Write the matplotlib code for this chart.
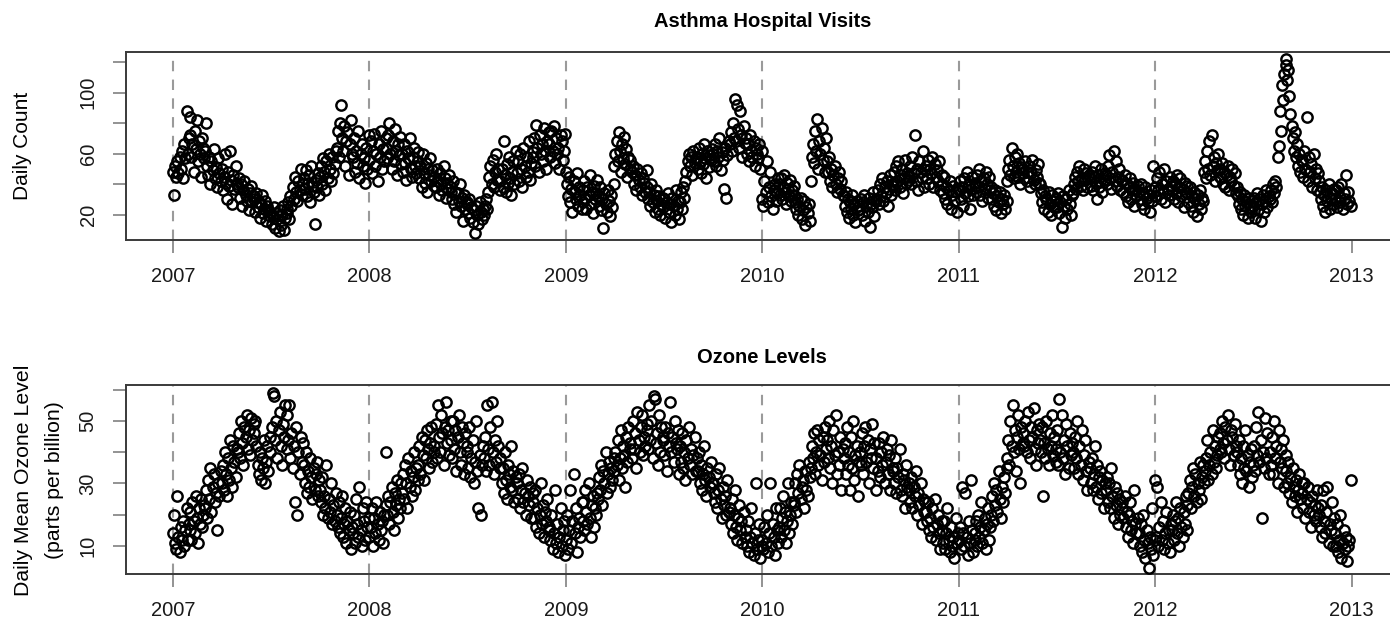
"""Daily asthma hospital visits and ozone levels, 2007-2012."""

import matplotlib

matplotlib.use("Agg")
import matplotlib.pyplot as plt
import pandas as pd

plt.rcParams["font.family"] = ["Liberation Sans", "DejaVu Sans"]

YEARS = [2007, 2008, 2009, 2010, 2011, 2012]

# daily counts, one row per month (every other day)
ASTHMA_2007 = [
    [48, 33, 52, 45, 55, 47, 58, 50, 62, 44, 66, 57, 88, 60, 70],
    [72, 84, 58, 66, 48, 75, 63, 82, 55, 68, 60, 45, 70, 64, 57],
    [62, 80, 52, 46, 58, 40, 55, 49, 63, 44, 51, 38, 57, 47, 42],
    [50, 36, 45, 60, 41, 30, 48, 39, 62, 43, 27, 46, 37, 52, 40],
    [38, 44, 31, 40, 26, 36, 42, 33, 29, 37, 23, 34, 39, 28, 32],
    [30, 22, 34, 25, 28, 18, 27, 33, 21, 24, 29, 16, 26, 23, 19],
    [22, 14, 19, 25, 11, 21, 17, 9, 23, 13, 20, 26, 10, 18, 24],
    [21, 28, 17, 32, 26, 38, 30, 45, 35, 29, 42, 36, 50, 33, 40],
    [44, 37, 49, 32, 41, 46, 28, 52, 39, 35, 14, 43, 38, 47, 33],
    [45, 52, 40, 57, 48, 36, 55, 44, 60, 50, 42, 58, 47, 53, 62],
    [64, 75, 58, 80, 92, 70, 62, 78, 52, 68, 74, 46, 66, 82, 60],
    [58, 70, 48, 62, 54, 75, 44, 60, 66, 52, 57, 41, 64, 50, 72],
]
ASTHMA_2008 = [
    [56, 68, 47, 62, 73, 52, 60, 42, 66, 58, 75, 50, 63, 55, 70],
    [64, 57, 72, 80, 60, 50, 68, 55, 76, 62, 46, 66, 59, 71, 53],
    [60, 48, 66, 54, 43, 62, 57, 70, 50, 45, 58, 64, 52, 47, 61],
    [55, 44, 52, 38, 60, 47, 41, 54, 35, 50, 46, 57, 42, 49, 39],
    [45, 38, 50, 42, 33, 47, 40, 36, 52, 44, 31, 41, 37, 46, 35],
    [38, 30, 42, 27, 35, 22, 34, 29, 40, 26, 31, 16, 33, 24, 28],
    [27, 21, 30, 18, 25, 15, 23, 8, 26, 20, 14, 28, 22, 17, 24],
    [20, 26, 30, 24, 35, 45, 52, 40, 56, 38, 48, 60, 43, 50, 36],
    [42, 50, 38, 68, 46, 35, 53, 41, 58, 44, 33, 48, 55, 40, 62],
    [47, 55, 42, 60, 50, 38, 64, 52, 45, 58, 48, 68, 43, 54, 61],
    [58, 70, 52, 79, 64, 48, 72, 60, 66, 55, 77, 62, 50, 68, 74],
    [66, 58, 75, 62, 78, 54, 70, 60, 64, 50, 72, 68, 56, 62, 73],
]
ASTHMA_2009 = [
    [48, 40, 32, 45, 28, 37, 22, 42, 35, 30, 47, 26, 38, 33, 24],
    [36, 28, 42, 31, 24, 38, 33, 46, 27, 35, 21, 39, 30, 34, 43],
    [32, 26, 38, 23, 30, 11, 34, 27, 22, 36, 29, 19, 33, 25, 40],
    [52, 60, 68, 55, 74, 62, 48, 66, 57, 71, 53, 63, 45, 58, 50],
    [56, 48, 52, 40, 46, 36, 50, 43, 38, 47, 33, 44, 41, 35, 49],
    [38, 30, 35, 26, 40, 28, 33, 22, 36, 29, 24, 32, 20, 27, 31],
    [25, 30, 18, 28, 34, 22, 27, 15, 31, 26, 20, 36, 24, 29, 17],
    [28, 35, 24, 38, 31, 42, 48, 55, 60, 52, 58, 46, 62, 54, 57],
    [58, 50, 64, 55, 47, 60, 53, 66, 57, 44, 62, 51, 59, 56, 63],
    [60, 55, 66, 52, 62, 58, 70, 49, 61, 56, 37, 64, 31, 59, 68],
    [66, 74, 62, 80, 70, 96, 68, 92, 76, 64, 88, 72, 58, 78, 67],
    [70, 60, 66, 55, 72, 62, 58, 68, 52, 64, 60, 57, 66, 50, 62],
]
ASTHMA_2010 = [
    [30, 26, 42, 35, 55, 28, 38, 48, 32, 24, 36, 40, 29, 34, 44],
    [40, 33, 44, 30, 38, 46, 35, 27, 41, 37, 32, 43, 29, 36, 39],
    [33, 28, 24, 30, 20, 26, 31, 17, 23, 29, 13, 25, 21, 27, 16],
    [42, 58, 66, 54, 75, 62, 83, 50, 68, 60, 77, 56, 64, 48, 70],
    [55, 48, 58, 42, 50, 38, 46, 52, 40, 35, 44, 48, 37, 42, 33],
    [32, 26, 35, 22, 30, 18, 28, 24, 33, 20, 27, 15, 29, 23, 26],
    [24, 30, 20, 28, 33, 16, 26, 22, 31, 12, 27, 25, 35, 19, 29],
    [30, 36, 27, 40, 32, 44, 29, 38, 34, 42, 26, 37, 46, 33, 39],
    [40, 48, 36, 52, 42, 55, 38, 46, 50, 34, 44, 56, 41, 47, 43],
    [45, 52, 40, 58, 47, 72, 42, 50, 36, 55, 48, 44, 62, 38, 49],
    [52, 44, 56, 40, 50, 47, 58, 38, 53, 45, 49, 42, 55, 36, 46],
    [40, 34, 45, 30, 38, 27, 36, 42, 24, 33, 39, 29, 35, 22, 37],
]
ASTHMA_2011 = [
    [36, 42, 30, 38, 26, 44, 34, 48, 32, 40, 24, 37, 45, 33, 39],
    [41, 35, 46, 38, 50, 33, 42, 29, 44, 37, 48, 40, 31, 45, 36],
    [38, 30, 34, 26, 36, 23, 32, 28, 35, 21, 30, 27, 33, 24, 29],
    [42, 50, 56, 46, 64, 52, 44, 58, 48, 60, 45, 54, 40, 51, 47],
    [50, 44, 55, 42, 48, 52, 38, 47, 56, 43, 40, 49, 45, 53, 41],
    [40, 34, 28, 36, 24, 32, 30, 22, 35, 27, 20, 33, 29, 25, 31],
    [30, 25, 34, 21, 28, 12, 32, 26, 18, 30, 24, 36, 27, 20, 33],
    [34, 40, 45, 37, 48, 42, 52, 39, 44, 36, 50, 43, 47, 38, 46],
    [44, 39, 48, 36, 45, 52, 41, 30, 46, 38, 42, 50, 35, 43, 47],
    [46, 40, 52, 59, 44, 37, 48, 62, 42, 55, 39, 45, 50, 36, 43],
    [42, 35, 46, 32, 40, 28, 38, 44, 30, 36, 41, 26, 37, 33, 39],
    [35, 30, 40, 27, 34, 24, 38, 31, 28, 33, 22, 36, 29, 52, 32],
]
ASTHMA_2012 = [
    [38, 32, 44, 36, 48, 30, 40, 35, 50, 28, 42, 37, 33, 45, 39],
    [36, 42, 30, 40, 34, 46, 28, 38, 44, 32, 37, 25, 41, 35, 39],
    [34, 28, 38, 26, 32, 22, 35, 30, 19, 33, 27, 36, 24, 31, 29],
    [48, 55, 44, 62, 50, 68, 46, 72, 52, 58, 42, 54, 49, 60, 45],
    [50, 44, 54, 40, 48, 38, 46, 52, 36, 45, 42, 50, 39, 47, 34],
    [38, 32, 27, 35, 24, 30, 20, 33, 26, 28, 18, 31, 25, 22, 29],
    [26, 31, 18, 28, 34, 23, 30, 16, 27, 33, 22, 29, 36, 25, 32],
    [30, 36, 28, 40, 34, 42, 38, 58, 65, 88, 75, 105, 95, 112, 118],
    [122, 108, 115, 98, 86, 78, 70, 62, 74, 58, 66, 52, 60, 48, 56],
    [55, 45, 62, 50, 84, 42, 58, 48, 53, 38, 60, 44, 50, 36, 47],
    [42, 35, 30, 38, 26, 33, 22, 36, 29, 40, 24, 31, 34, 27, 37],
    [30, 36, 25, 38, 32, 28, 40, 24, 34, 30, 46, 27, 35, 29, 26],
]

# daily mean ozone (ppb), one row per month
OZONE_2007 = [
    [14, 20, 11, 9, 26, 13, 8, 16, 12, 18, 10, 15, 22, 12, 17],
    [15, 21, 12, 24, 18, 14, 26, 19, 11, 22, 17, 25, 16, 20, 23],
    [22, 28, 19, 31, 25, 35, 21, 29, 33, 24, 27, 15, 30, 26, 34],
    [30, 36, 28, 40, 33, 26, 38, 31, 44, 35, 29, 42, 37, 32, 41],
    [40, 46, 38, 50, 43, 36, 48, 45, 52, 41, 47, 39, 51, 44, 49],
    [46, 50, 42, 36, 33, 40, 31, 38, 35, 44, 30, 37, 42, 34, 45],
    [40, 48, 59, 58, 44, 50, 38, 47, 53, 42, 36, 49, 45, 55, 41],
    [52, 44, 55, 38, 46, 35, 42, 24, 48, 20, 40, 33, 45, 37, 43],
    [36, 30, 40, 27, 34, 29, 38, 32, 25, 35, 28, 33, 37, 26, 31],
    [28, 24, 32, 20, 26, 22, 36, 19, 25, 21, 30, 17, 23, 18, 27],
    [20, 16, 24, 14, 19, 26, 13, 17, 22, 11, 18, 15, 21, 9, 16],
    [14, 20, 11, 25, 17, 13, 29, 15, 10, 22, 18, 12, 24, 16, 19],
]
OZONE_2008 = [
    [13, 16, 22, 10, 19, 14, 24, 17, 12, 21, 15, 18, 11, 20, 23],
    [40, 20, 26, 17, 24, 29, 21, 15, 27, 23, 31, 19, 25, 22, 30],
    [27, 33, 25, 36, 30, 22, 38, 29, 34, 26, 32, 40, 28, 35, 31],
    [36, 42, 33, 45, 39, 31, 44, 38, 47, 41, 35, 43, 48, 37, 40],
    [42, 49, 38, 55, 45, 40, 52, 46, 36, 48, 56, 43, 47, 39, 50],
    [44, 38, 50, 41, 47, 34, 45, 52, 40, 36, 48, 43, 33, 46, 42],
    [40, 35, 48, 32, 38, 44, 30, 37, 50, 34, 22, 39, 20, 36, 42],
    [38, 45, 34, 55, 41, 36, 48, 56, 40, 33, 44, 37, 50, 42, 35],
    [38, 30, 35, 27, 40, 31, 25, 36, 33, 29, 42, 28, 34, 24, 32],
    [30, 25, 33, 22, 28, 35, 24, 27, 20, 31, 26, 23, 29, 19, 27],
    [24, 19, 28, 16, 22, 14, 20, 30, 17, 23, 13, 21, 18, 25, 15],
    [16, 12, 20, 9, 14, 28, 11, 17, 8, 13, 22, 10, 15, 18, 7],
]
OZONE_2009 = [
    [12, 20, 9, 15, 28, 11, 18, 33, 14, 22, 8, 16, 19, 13, 24],
    [18, 24, 15, 28, 21, 17, 30, 19, 13, 23, 26, 16, 22, 20, 27],
    [25, 32, 28, 36, 23, 34, 30, 40, 27, 33, 37, 29, 35, 31, 38],
    [34, 40, 36, 44, 31, 38, 47, 35, 42, 39, 29, 45, 37, 48, 41],
    [43, 38, 50, 41, 46, 35, 53, 44, 40, 48, 52, 39, 45, 42, 49],
    [47, 41, 55, 44, 50, 38, 58, 57, 43, 46, 36, 52, 40, 48, 45],
    [44, 39, 48, 34, 46, 42, 56, 40, 45, 37, 50, 43, 41, 47, 33],
    [42, 37, 46, 35, 40, 31, 44, 38, 48, 36, 41, 33, 39, 45, 34],
    [38, 34, 40, 30, 36, 28, 33, 42, 31, 26, 35, 32, 29, 37, 30],
    [30, 27, 24, 33, 22, 28, 35, 25, 19, 29, 23, 26, 20, 31, 21],
    [22, 17, 25, 14, 20, 28, 16, 12, 19, 23, 15, 18, 11, 21, 13],
    [15, 10, 18, 8, 13, 22, 11, 7, 14, 30, 9, 12, 17, 6, 10],
]
OZONE_2010 = [
    [12, 9, 16, 11, 20, 8, 14, 30, 10, 17, 13, 7, 22, 15, 11],
    [16, 22, 13, 19, 26, 15, 21, 11, 18, 30, 14, 20, 24, 17, 23],
    [24, 30, 21, 33, 27, 36, 25, 29, 31, 22, 34, 28, 26, 37, 32],
    [35, 42, 38, 46, 33, 40, 47, 36, 44, 39, 31, 45, 37, 48, 41],
    [44, 38, 50, 35, 42, 30, 47, 39, 52, 33, 40, 36, 45, 28, 41],
    [38, 43, 33, 48, 36, 40, 28, 45, 35, 50, 31, 39, 42, 26, 37],
    [40, 36, 46, 33, 42, 48, 37, 44, 30, 41, 38, 49, 35, 43, 28],
    [38, 34, 43, 32, 40, 36, 45, 30, 37, 41, 33, 39, 28, 44, 35],
    [34, 30, 38, 27, 35, 32, 41, 28, 26, 33, 31, 22, 36, 29, 30],
    [28, 24, 32, 22, 29, 26, 34, 20, 27, 23, 30, 17, 25, 21, 24],
    [21, 18, 24, 15, 19, 13, 22, 16, 25, 12, 17, 20, 14, 9, 18],
    [15, 11, 18, 9, 14, 22, 12, 8, 16, 10, 13, 6, 19, 11, 14],
]
OZONE_2011 = [
    [12, 16, 9, 29, 14, 10, 27, 13, 7, 18, 11, 31, 15, 8, 12],
    [14, 18, 10, 20, 13, 16, 24, 11, 15, 19, 9, 17, 22, 12, 16],
    [20, 26, 18, 30, 23, 28, 21, 34, 25, 19, 29, 24, 32, 27, 35],
    [38, 44, 36, 50, 42, 55, 40, 47, 34, 45, 52, 41, 30, 48, 43],
    [46, 42, 50, 40, 53, 44, 38, 48, 45, 54, 41, 36, 47, 43, 49],
    [44, 40, 48, 26, 43, 38, 50, 41, 36, 46, 42, 52, 39, 45, 37],
    [41, 47, 36, 57, 40, 52, 38, 44, 33, 49, 42, 35, 46, 39, 43],
    [40, 35, 45, 38, 50, 33, 42, 36, 47, 31, 39, 44, 34, 28, 37],
    [35, 30, 38, 28, 33, 42, 29, 36, 25, 32, 34, 27, 31, 22, 30],
    [28, 32, 24, 30, 22, 35, 26, 19, 29, 23, 27, 17, 25, 20, 24],
    [22, 19, 26, 16, 21, 13, 20, 24, 15, 18, 11, 28, 17, 14, 19],
    [14, 10, 17, 8, 20, 12, 6, 15, 11, 3, 13, 9, 22, 7, 12],
]
OZONE_2012 = [
    [31, 13, 29, 10, 16, 24, 12, 18, 9, 14, 21, 11, 15, 8, 17],
    [15, 20, 12, 18, 24, 14, 19, 10, 22, 16, 13, 21, 17, 26, 15],
    [23, 27, 31, 22, 29, 35, 26, 33, 24, 30, 28, 37, 25, 32, 36],
    [30, 34, 38, 44, 31, 36, 40, 33, 47, 37, 42, 35, 39, 45, 41],
    [46, 40, 50, 43, 38, 48, 44, 52, 41, 36, 47, 45, 39, 49, 42],
    [40, 36, 44, 33, 38, 30, 42, 35, 47, 34, 39, 29, 37, 41, 32],
    [36, 42, 34, 48, 39, 53, 37, 44, 19, 40, 35, 51, 38, 46, 33],
    [40, 36, 45, 33, 50, 38, 42, 30, 47, 37, 41, 35, 44, 29, 39],
    [34, 30, 37, 27, 32, 24, 35, 29, 26, 31, 21, 28, 33, 25, 30],
    [27, 22, 30, 19, 25, 29, 21, 24, 16, 26, 20, 23, 18, 28, 22],
    [20, 16, 23, 13, 28, 18, 14, 21, 29, 11, 17, 15, 24, 10, 19],
    [14, 10, 17, 8, 12, 20, 6, 11, 15, 9, 13, 5, 10, 12, 31],
]

ASTHMA = [ASTHMA_2007, ASTHMA_2008, ASTHMA_2009, ASTHMA_2010, ASTHMA_2011, ASTHMA_2012]
OZONE = [OZONE_2007, OZONE_2008, OZONE_2009, OZONE_2010, OZONE_2011, OZONE_2012]

YEAR_TICKS = [2007, 2008, 2009, 2010, 2011, 2012, 2013]
ASTHMA_TICKS = [20, 40, 60, 80, 100, 120]
ASTHMA_TICK_LABELS = ["20", "", "60", "", "100", ""]
OZONE_TICKS = [10, 20, 30, 40, 50, 60]
OZONE_TICK_LABELS = ["10", "", "30", "", "50", ""]


def to_series(by_year):
    xs, ys = [], []
    for year, months in zip(YEARS, by_year):
        year_start = pd.Timestamp(year=year, month=1, day=1)
        year_days = 366 if year_start.is_leap_year else 365
        for month, values in enumerate(months, start=1):
            start = pd.Timestamp(year=year, month=month, day=1)
            end = start + pd.offsets.MonthEnd(0)
            dates = pd.date_range(start, end, periods=len(values))
            xs.extend(year + (dates - year_start).days / year_days)
            ys.extend(values)
    return xs, ys


def style_panel(ax, ticks, tick_labels, ylim):
    ax.set_xlim(2006.76, 2013.24)
    ax.set_ylim(*ylim)
    for year in YEARS:
        ax.axvline(year, color="#9a9a9a", lw=1.5, ls=(0, (5, 4)), zorder=1)
    ax.set_xticks(YEAR_TICKS)
    ax.set_xticklabels([str(y) for y in YEAR_TICKS])
    ax.set_yticks(ticks)
    ax.set_yticklabels(tick_labels)
    ax.tick_params(axis="both", length=9.4, width=1.2, color="#808080",
                   labelsize=14.5, labelcolor="#1a1a1a")
    ax.tick_params(axis="x", pad=10)
    ax.tick_params(axis="y", pad=11, labelrotation=90)
    for label in ax.get_yticklabels():
        label.set_verticalalignment("center")
    for spine in ax.spines.values():
        spine.set_color("#3a3a3a")
        spine.set_linewidth(1.4)


def main():
    fig = plt.figure(figsize=(13.9, 6.21), dpi=100)
    ax_top = fig.add_axes([0.0906, 0.6135, 0.9157, 0.3032])
    ax_bot = fig.add_axes([0.0906, 0.0752, 0.9157, 0.3048])

    for ax, data, ticks, labels, ylim in [
        (ax_top, ASTHMA, ASTHMA_TICKS, ASTHMA_TICK_LABELS, (3.4, 126.8)),
        (ax_bot, OZONE, OZONE_TICKS, OZONE_TICK_LABELS, (0.9, 61.5)),
    ]:
        x, y = to_series(data)
        ax.plot(x, y, "o", ms=7.4, mfc="none", mec="black", mew=1.75, zorder=3)
        style_panel(ax, ticks, labels, ylim)

    ax_top.set_title("Asthma Hospital Visits", fontsize=14.5, fontweight="bold", pad=18)
    ax_bot.set_title("Ozone Levels", fontsize=14.5, fontweight="bold", pad=16)
    fig.text(0.016, 0.765, "Daily Count", rotation=90, ha="center", va="center", fontsize=15)
    fig.text(0.017, 0.227, "Daily Mean Ozone Level", rotation=90, ha="center", va="center",
             fontsize=15.3)
    fig.text(0.039, 0.227, "(parts per billion)", rotation=90, ha="center", va="center",
             fontsize=15.3)

    fig.savefig("out.png", dpi=100)
    plt.close(fig)


if __name__ == "__main__":
    main()
